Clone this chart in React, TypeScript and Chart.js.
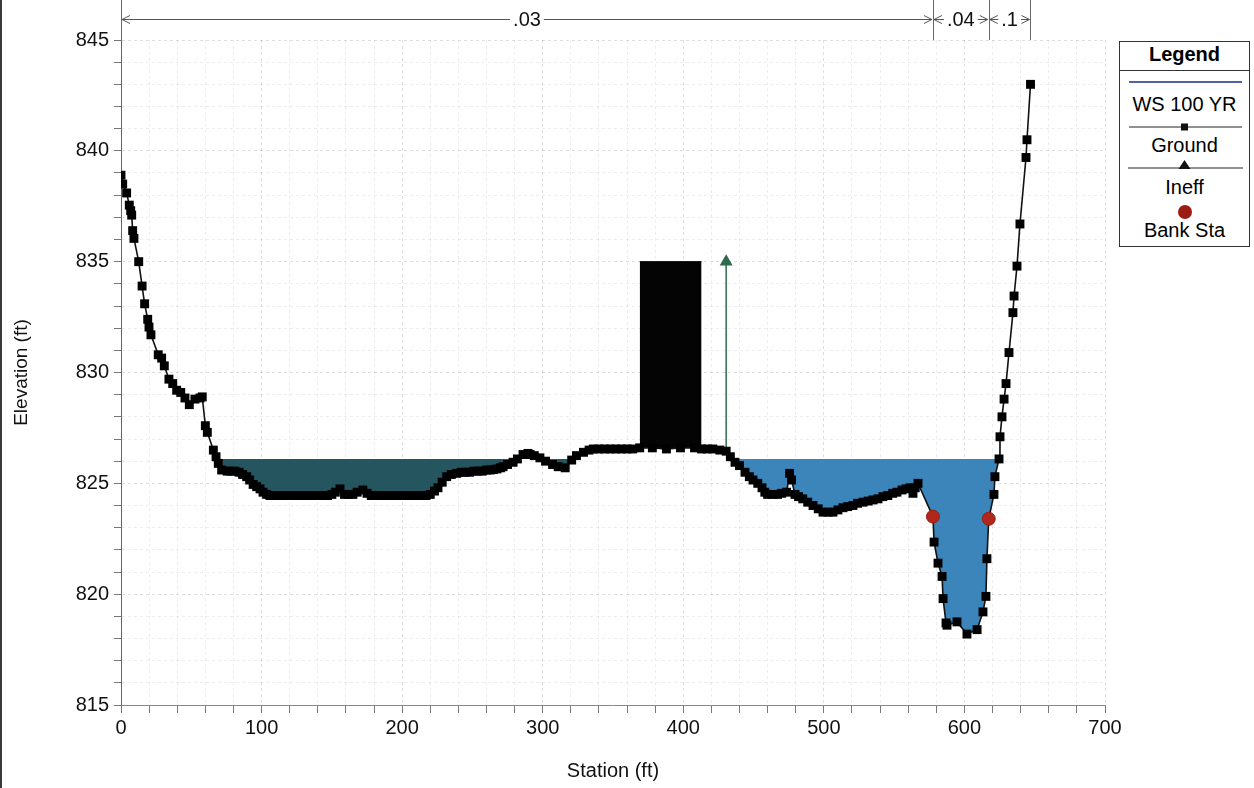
import React, { useEffect, useRef } from 'react';
import { Chart, registerables } from 'chart.js';

Chart.register(...registerables);

const FONT = "'Liberation Sans', Arial, Helvetica, sans-serif";

// Ground survey points: station (ft) and elevation (ft)
const GROUND_STATION = [
  0, 1.2, 4.0, 5.9, 6.9, 7.6, 8.3, 9.2, 12.6, 15.0,
  16.8, 19.0, 19.9, 21.3, 26.5, 28.9, 30.8, 34.1, 36.8, 39.6,
  42.5, 45.5, 48.6, 52.6, 56.2, 57.8, 60.0, 61.4, 65.7, 67.6,
  69.2, 71.6, 75.5, 78, 81, 84, 86.5, 89.4, 91.5, 94,
  96.5, 98.9, 101, 103.6, 106, 108.4, 111, 114, 117, 120,
  123, 126, 129, 132, 135, 138, 141, 144, 147, 150,
  152.5, 155.8, 159, 162, 165, 168, 172, 175, 178, 181,
  184, 187, 190, 193, 196, 199, 202, 205, 208, 211,
  214, 217, 220, 223, 225.5, 228.5, 231.7, 235, 238.8, 242,
  245, 248, 251, 254, 257, 260, 262.5, 265, 267.5, 270,
  271.8, 275, 278.9, 282, 286, 289.5, 291, 294, 298, 302,
  307, 311, 316, 320.6, 324, 329, 333, 336, 340, 344,
  348, 352, 356, 360, 364, 369, 378, 388, 398, 408,
  413, 417, 421, 426, 430.5, 433.5, 436.8, 440, 443.9, 447,
  449.6, 453, 456, 458, 460, 463.5, 467, 470, 473.5, 475.6,
  477, 479.5, 482, 485, 488.5, 492.3, 496, 499.4, 503, 506.5,
  510, 513.6, 517, 520.7, 524, 527.9, 531.5, 535, 538.5, 542,
  545.5, 549, 552, 555.6, 558.5, 561.3, 563.4, 565, 567, 577.6,
  578.4, 581.2, 584.1, 584.8, 586.9, 587.6, 594.7, 601.8, 609.0, 613.2,
  615.3, 616.0, 617.3, 621.0, 621.7, 624.6, 625.3, 626.7, 628.2, 629.6,
  631.7, 634.5, 635.3, 637.4, 639.5, 643.8, 644.5, 647.0,
];

const GROUND_ELEV = [
  838.9, 838.5, 838.1, 837.55, 837.3, 837.1, 836.4, 836.05, 835.0, 833.9,
  833.1, 832.4, 832.05, 831.7, 830.8, 830.65, 830.3, 829.7, 829.5, 829.2,
  829.1, 828.85, 828.55, 828.8, 828.85, 828.9, 827.6, 827.3, 826.5, 826.2,
  825.9, 825.6, 825.55, 825.55, 825.55, 825.5, 825.4, 825.3, 825.15, 824.95,
  824.85, 824.75, 824.6, 824.5, 824.45, 824.45, 824.45, 824.45, 824.45, 824.45,
  824.45, 824.45, 824.45, 824.45, 824.45, 824.45, 824.45, 824.45, 824.45, 824.5,
  824.6, 824.75, 824.5, 824.5, 824.5, 824.6, 824.7, 824.55, 824.45, 824.45,
  824.45, 824.45, 824.45, 824.45, 824.45, 824.45, 824.45, 824.45, 824.45, 824.45,
  824.45, 824.45, 824.5, 824.65, 824.8, 825.05, 825.3, 825.4, 825.45, 825.5,
  825.5, 825.5, 825.55, 825.55, 825.55, 825.6, 825.6, 825.62, 825.65, 825.7,
  825.75, 825.85, 825.95, 826.1, 826.3, 826.35, 826.3, 826.25, 826.15, 826.0,
  825.85, 825.75, 825.7, 826.05, 826.25, 826.4, 826.5, 826.55, 826.55, 826.55,
  826.55, 826.55, 826.55, 826.55, 826.55, 826.6, 826.6, 826.55, 826.6, 826.6,
  826.55, 826.55, 826.55, 826.5, 826.45, 826.2, 825.95, 825.8, 825.5, 825.3,
  825.15, 825.0, 824.8, 824.6, 824.5, 824.5, 824.5, 824.55, 824.6, 825.45,
  825.15, 824.5, 824.4, 824.3, 824.15, 824.0, 823.85, 823.7, 823.7, 823.7,
  823.8, 823.9, 823.95, 824.0, 824.1, 824.15, 824.2, 824.25, 824.3, 824.4,
  824.45, 824.55, 824.6, 824.7, 824.75, 824.8, 824.55, 824.8, 825.0, 823.5,
  822.35, 821.4, 820.8, 819.8, 818.7, 818.6, 818.75, 818.2, 818.4, 819.2,
  819.9, 821.6, 823.4, 824.5, 825.3, 826.1, 827.1, 828.0, 828.8, 829.5,
  830.9, 832.7, 833.45, 834.8, 836.7, 839.7, 840.5, 843.0,
];

// 100-year water surface
const WS_ELEV = 826.1;
const WS_INEFFECTIVE_STATIONS = [60, 430.5];
const WS_EFFECTIVE_STATIONS = [430.5, 630];

// Blocked obstruction
const BLOCK_STATIONS = [369, 413];
const BLOCK_TOP = 835;

// Ineffective flow limit
const INEFF_STATION = 430.5;
const INEFF_ELEV = [826.45, 835];

// Bank stations
const BANK_STATIONS = [577.6, 617.3];
const BANK_ELEV = [823.5, 823.4];

// Manning's n breaks along the top
const N_BREAKS = [0, 577.6, 617.3, 647];
const N_VALUES = ['.03', '.04', '.1'];

const X_MIN = 0;
const X_MAX = 700;
const Y_MIN = 815;
const Y_MAX = 845;

const manningPlugin = {
  id: 'manningBar',
  afterDraw(chart: any) {
    const { ctx, chartArea } = chart;
    const x = chart.scales.x;
    const yLine = chartArea.top - 21;
    ctx.save();
    ctx.lineWidth = 1;
    ctx.strokeStyle = '#666';
    // axis extension above the plot
    const ax = Math.round(x.getPixelForValue(X_MIN)) + 0.5;
    ctx.beginPath();
    ctx.moveTo(ax, 0);
    ctx.lineTo(ax, chartArea.top);
    ctx.stroke();
    // break markers
    for (let i = 1; i < N_BREAKS.length; i++) {
      const px = Math.round(x.getPixelForValue(N_BREAKS[i])) + 0.5;
      ctx.beginPath();
      ctx.moveTo(px, 0);
      ctx.lineTo(px, chartArea.top);
      ctx.stroke();
    }
    ctx.font = `20px ${FONT}`;
    ctx.textAlign = 'center';
    ctx.textBaseline = 'middle';
    for (let i = 0; i < N_VALUES.length; i++) {
      const x0 = x.getPixelForValue(N_BREAKS[i]) + 1;
      const x1 = x.getPixelForValue(N_BREAKS[i + 1]) - 1;
      const mid = (x0 + x1) / 2;
      const w = ctx.measureText(N_VALUES[i]).width;
      const y = yLine + 0.5;
      ctx.strokeStyle = '#555';
      if (mid - w / 2 - 3 > x0 + 2) {
        ctx.beginPath();
        ctx.moveTo(x0, y);
        ctx.lineTo(mid - w / 2 - 3, y);
        ctx.moveTo(mid + w / 2 + 3, y);
        ctx.lineTo(x1, y);
        ctx.stroke();
      }
      // arrowheads
      ctx.beginPath();
      ctx.moveTo(x0 + 8, y - 4);
      ctx.lineTo(x0, y);
      ctx.lineTo(x0 + 8, y + 4);
      ctx.moveTo(x1 - 8, y - 4);
      ctx.lineTo(x1, y);
      ctx.lineTo(x1 - 8, y + 4);
      ctx.stroke();
      ctx.fillStyle = '#111';
      ctx.fillText(N_VALUES[i], mid, yLine + 1);
    }
    ctx.restore();
  },
};

function Legend() {
  const text: React.CSSProperties = {
    position: 'absolute',
    left: 0,
    width: '100%',
    textAlign: 'center',
    fontSize: 20,
    lineHeight: '24px',
    color: '#000',
  };
  return (
    <div
      style={{
        position: 'absolute',
        left: 1119,
        top: 41,
        width: 131,
        height: 206,
        border: '1px solid #333',
        boxSizing: 'border-box',
        background: '#fff',
        fontFamily: FONT,
      }}
    >
      <div style={{ ...text, top: 0, fontWeight: 'bold' }}>Legend</div>
      <div style={{ position: 'absolute', left: 0, right: 0, top: 28, borderTop: '1px solid #333' }} />
      <svg width={131} height={206} style={{ position: 'absolute', left: -1, top: -1 }}>
        <line x1={10} x2={123} y1={41} y2={41} stroke="#4f64a0" strokeWidth={2} />
        <line x1={10} x2={123} y1={86} y2={86} stroke="#222" strokeWidth={1.2} />
        <rect x={62} y={82.5} width={7} height={7} fill="#111" />
        <line x1={9} x2={124} y1={127} y2={127} stroke="#222" strokeWidth={1.2} />
        <polygon points="65.5,119 59.5,128 71.5,128" fill="#111" />
        <circle cx={66} cy={171} r={7} fill="#9b1c12" />
      </svg>
      <div style={{ ...text, top: 50 }}>WS 100 YR</div>
      <div style={{ ...text, top: 91 }}>Ground</div>
      <div style={{ ...text, top: 133 }}>Ineff</div>
      <div style={{ ...text, top: 176 }}>Bank Sta</div>
    </div>
  );
}

export default function App() {
  const canvasRef = useRef<HTMLCanvasElement>(null);

  useEffect(() => {
    document.body.style.margin = '0';
    const ground = GROUND_STATION.map((s, i) => ({ x: s, y: GROUND_ELEV[i] }));
    const wsLeft = WS_INEFFECTIVE_STATIONS.map((s) => ({ x: s, y: WS_ELEV }));
    const wsRight = WS_EFFECTIVE_STATIONS.map((s) => ({ x: s, y: WS_ELEV }));
    const block = BLOCK_STATIONS.map((s) => ({ x: s, y: BLOCK_TOP }));
    const ineff = INEFF_ELEV.map((e) => ({ x: INEFF_STATION, y: e }));
    const banks = BANK_STATIONS.map((s, i) => ({ x: s, y: BANK_ELEV[i] }));

    const tickFont = { family: FONT, size: 20 };

    const chart = new Chart(canvasRef.current!, {
      type: 'line',
      data: {
        datasets: [
          {
            label: 'Ground',
            data: ground,
            borderColor: '#111',
            borderWidth: 1.6,
            pointStyle: 'rect',
            pointRadius: 6.3,
            pointBackgroundColor: '#000',
            pointBorderWidth: 0,
            fill: false,
            order: 1,
          },
          {
            label: 'Bank Sta',
            data: banks,
            showLine: false,
            pointStyle: 'circle',
            pointRadius: 6.5,
            pointBackgroundColor: '#b0281c',
            pointBorderColor: '#9b1c12',
            pointBorderWidth: 1,
            order: 0,
          },
          {
            label: 'Ineff',
            data: ineff,
            borderColor: '#2e6b4c',
            borderWidth: 1.5,
            pointStyle: 'triangle',
            pointRadius: [0, 6],
            pointBackgroundColor: '#2e6b4c',
            pointBorderColor: '#2e6b4c',
            fill: false,
            order: 2,
          },
          {
            label: 'Obstruction',
            data: block,
            borderColor: '#000',
            borderWidth: 1,
            pointRadius: 0,
            fill: { target: 0, above: '#040404', below: 'rgba(0,0,0,0)' },
            order: 3,
          },
          {
            label: 'WS 100 YR (ineffective)',
            data: wsLeft,
            borderWidth: 0,
            borderColor: 'rgba(0,0,0,0)',
            pointRadius: 0,
            fill: { target: 0, above: '#25555f', below: 'rgba(0,0,0,0)' },
            order: 4,
          },
          {
            label: 'WS 100 YR',
            data: wsRight,
            borderWidth: 0,
            borderColor: 'rgba(0,0,0,0)',
            pointRadius: 0,
            fill: { target: 0, above: '#3b85bb', below: 'rgba(0,0,0,0)' },
            order: 5,
          },
        ],
      },
      options: {
        responsive: false,
        animation: false,
        devicePixelRatio: 1,
        events: [],
        layout: { padding: { top: 40, right: 149, left: 0, bottom: 0 } },
        plugins: {
          legend: { display: false },
          tooltip: { enabled: false },
        },
        scales: {
          x: {
            type: 'linear',
            min: X_MIN,
            max: X_MAX,
            ticks: {
              stepSize: 20,
              autoSkip: false,
              maxRotation: 0,
              padding: 3,
              color: '#111',
              font: tickFont,
              callback: (v: any) => (Number(v) % 100 === 0 ? String(v) : ''),
            },
            grid: {
              color: (c: any) =>
                c.tick && c.tick.value % 100 === 0 ? 'rgba(0,0,0,0.13)' : 'rgba(0,0,0,0.07)',
              tickColor: '#777',
              tickLength: 8,
            },
            border: { color: '#888', width: 1, dash: [3, 3] },
            title: {
              display: true,
              text: 'Station (ft)',
              color: '#111',
              font: { family: FONT, size: 20 },
              padding: { top: 5, bottom: 5 },
            },
            afterFit: (s: any) => {
              s.height = 83;
            },
          },
          y: {
            type: 'linear',
            min: Y_MIN,
            max: Y_MAX,
            ticks: {
              stepSize: 1,
              autoSkip: false,
              padding: 5,
              color: '#111',
              font: tickFont,
              callback: (v: any) => (Number(v) % 5 === 0 ? String(v) : ''),
            },
            grid: {
              color: (c: any) =>
                c.tick && c.tick.value % 5 === 0 ? 'rgba(0,0,0,0.13)' : 'rgba(0,0,0,0.07)',
              tickColor: '#777',
              tickLength: 7,
            },
            border: { color: '#666', width: 1, dash: [3, 3] },
            title: {
              display: true,
              text: 'Elevation (ft)',
              color: '#111',
              font: { family: FONT, size: 19 },
              padding: { top: 10, bottom: 0 },
            },
            afterFit: (s: any) => {
              s.width = 121;
            },
          },
        },
      },
      plugins: [manningPlugin],
    } as any);

    return () => chart.destroy();
  }, []);

  return (
    <div style={{ position: 'relative', width: 1254, height: 788, background: '#fff', overflow: 'hidden' }}>
      <canvas ref={canvasRef} width={1254} height={788} style={{ display: 'block', width: 1254, height: 788 }} />
      <div style={{ position: 'absolute', left: 0, top: 0, width: 2, height: 788, background: '#3a3a3a' }} />
      <Legend />
    </div>
  );
}
